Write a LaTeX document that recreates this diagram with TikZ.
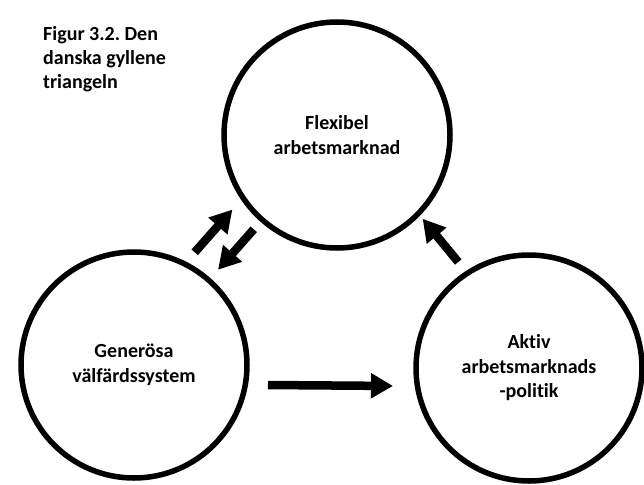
\documentclass[tikz,border=0pt]{standalone}
\usepackage{fontspec}
\setmainfont{Carlito}[Ligatures=NoCommon]
\usetikzlibrary{arrows.meta,calc}
\frenchspacing
\begin{document}
\begin{tikzpicture}[x=1pt,y=-1pt,
  ring/.style={circle, draw, line width=5.5pt, minimum size=226pt, align=center,
    font=\fontsize{20}{24.5}\selectfont\bfseries},
  bigarrow/.style={line width=8.5pt, -{Triangle[length=22pt,width=24pt]}}]

\useasboundingbox (0,0) rectangle (644,484);

\node[anchor=north west, inner sep=0pt, align=left,
  font=\fontsize{20}{24}\selectfont\bfseries] (title) at (43,26) {Figur 3.2. Den\\danska gyllene\\triangeln};

\node[ring] (flex) at (337,135) {Flexibel\\arbetsmarknad};
\node[ring] (gen) at (134,365) {Generösa\\välfärdssystem};
\node[ring] (aktiv) at (529,368) {Aktiv\\arbetsmarknads\\-politik};

% pilar mellan cirklarna
\draw[bigarrow] ($(gen)!125pt!(flex)+(-22,-19)$) -- ($(gen)!182pt!(flex)+(-22,-19)$);
\draw[bigarrow] ($(gen)!181pt!(flex)$) -- ($(gen)!127pt!(flex)$);
\draw[bigarrow] ($(aktiv)!127pt!(flex)+(10,-8)$) -- ($(aktiv)!183pt!(flex)+(10,-8)$);
\draw[bigarrow] ($(gen)!134pt!(aktiv)+(0,19)$) -- ($(gen)!259pt!(aktiv)+(0,19)$);

\end{tikzpicture}
\end{document}
